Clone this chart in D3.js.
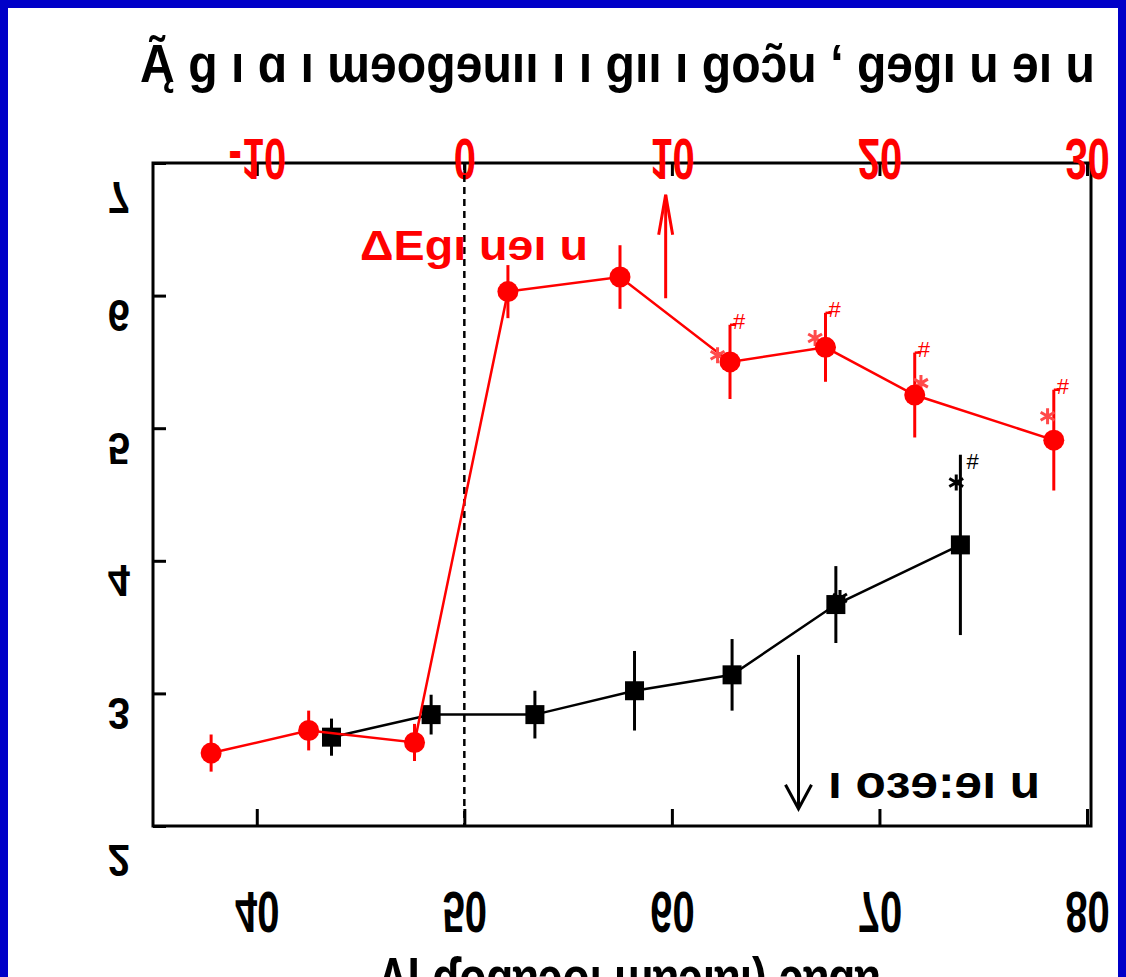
<!DOCTYPE html>
<html>
<head>
<meta charset="utf-8">
<script src="https://cdn.jsdelivr.net/npm/d3@7"></script>
<style>
  body { margin: 0; background: #0000c8; }
  svg { display: block; }
  text { font-family: "Liberation Sans", Arial, sans-serif; font-weight: bold; }
</style>
</head>
<body>
<svg id="chart"></svg>
<script>
// tick values
const ageTicks = [40, 50, 60, 70, 80]
const timeTicks = [-10, 0, 10, 20, 30]
const valueTicks = [2, 3, 4, 5, 6, 7]

// black series, bottom axis (age)
const blackAge = [43.6, 48.4, 53.4, 58.2, 62.9, 67.9, 73.9]
const blackVal = [2.67, 2.84, 2.84, 3.02, 3.14, 3.67, 4.12]
const blackErr = [0.14, 0.15, 0.18, 0.3, 0.27, 0.29, 0.68]
const blackStarAge = [68.1, 73.7]
const blackStarVal = [3.72, 4.59]

// red series, top axis (time)
const redTime = [-12.2, -7.5, -2.4, 2.1, 7.5, 12.8, 17.4, 21.7, 28.4]
const redVal = [2.55, 2.72, 2.63, 6.03, 6.14, 5.5, 5.61, 5.25, 4.91]
const redErr = [0.14, 0.15, 0.14, 0.2, 0.24, 0.28, 0.26, 0.32, 0.38]
const redStarTime = [12.2, 16.9, 22.0, 28.1]
const redStarVal = [5.55, 5.68, 5.34, 5.09]
const redHashIdx = [5, 6, 7, 8]

// arrows: [x, yFrom, yTo]
const redArrow = [9.7, 5.98, 6.76]
const blackArrow = [66.1, 3.29, 2.13]

// labels (as they appear)
const topTitle = "Ą̃ ɡ ı ɑ ı ɯɘoɡɘuıı ı  ı ɡıı ı ɡoɔ̃u ʻ ɡɘɡı u ɘı u"
const redLabel = "ΔEɡı  uɘı u"
const blackLabel = "ı   oɜɘ:ɘı u"
const bottomTitle = "ɅI ɗoɡɐɔoı ɯɐɔıɐı) ɔɐɡɐ"

const width = 1126
const height = 977
const plot = { left: 153, right: 1091, top: 163, bottom: 826 }

const svg = d3.select('#chart')
    .attr('width', width)
    .attr('height', height)

// blue slide border + white page
svg.append('rect').attr('width', width).attr('height', height).attr('fill', '#0000c8')
svg.append('rect').attr('x', 8).attr('y', 8).attr('width', width - 16).attr('height', height).attr('fill', '#fff')

const ageScale = d3.scaleLinear().domain([35, 80]).range([plot.left, 1087])
const timeScale = d3.scaleLinear().domain([-15, 30]).range([plot.left, 1087])
const yScale = d3.scaleLinear().domain([2, 7]).range([plot.bottom, plot.top])

// frame
svg.append('rect')
    .attr('x', plot.left).attr('y', plot.top)
    .attr('width', plot.right - plot.left).attr('height', plot.bottom - plot.top)
    .attr('fill', 'none').attr('stroke', '#000').attr('stroke-width', 3)

// axes, labels drawn flipped like in the picture
const gx = svg.append('g')
    .attr('transform', `translate(0,${plot.bottom})`)
    .call(d3.axisBottom(ageScale).tickValues(ageTicks).tickSizeInner(-17).tickSizeOuter(0)
        .tickFormat(d3.format('d')))
gx.selectAll('text')
    .attr('y', 0).attr('dy', 0)
    .attr('transform', 'translate(0,66) scale(1,-1.45)')
    .style('font-size', '40px').attr('fill', '#000')

const gt = svg.append('g')
    .attr('transform', `translate(0,${plot.top})`)
    .call(d3.axisTop(timeScale).tickValues(timeTicks).tickSizeInner(-13).tickSizeOuter(0)
        .tickFormat(d => String(d)))
gt.selectAll('text')
    .attr('y', 0).attr('dy', 0)
    .attr('transform', 'translate(0,-24) scale(1,-1.45)')
    .style('font-size', '40px').attr('fill', '#ff0000')

const gy = svg.append('g')
    .attr('transform', `translate(${plot.left},0)`)
    .call(d3.axisLeft(yScale).tickValues(valueTicks).tickSizeInner(-13).tickSizeOuter(0)
        .tickFormat(d3.format('d')))
gy.selectAll('text')
    .attr('x', 0).attr('dy', 0)
    .attr('transform', d => `translate(-23,${(d === 2 || d === 7) ? 18 : 4}) scale(1,-1.1)`)
    .style('font-size', '40px').attr('fill', '#000')

svg.selectAll('.domain').remove()
svg.selectAll('.tick line').attr('stroke', '#000').attr('stroke-width', 3)

// dashed line at time 0
svg.append('line')
    .attr('x1', timeScale(0)).attr('x2', timeScale(0))
    .attr('y1', plot.top).attr('y2', plot.bottom)
    .attr('stroke', '#000').attr('stroke-width', 2.5).attr('stroke-dasharray', '7,5')

function starPath(cx, cy, r) {
    let p = ''
    for (const a of [90, 30, 150]) {
        const t = a * Math.PI / 180
        p += `M${cx + r * Math.cos(t)},${cy - r * Math.sin(t)}L${cx - r * Math.cos(t)},${cy + r * Math.sin(t)}`
    }
    return p
}

// black series
const blackData = blackAge.map((a, i) => ({ x: ageScale(a), v: blackVal[i], e: blackErr[i] }))
svg.append('g').selectAll('line').data(blackData).enter().append('line')
    .attr('x1', d => d.x).attr('x2', d => d.x)
    .attr('y1', d => yScale(d.v - d.e)).attr('y2', d => yScale(d.v + d.e))
    .attr('stroke', '#000').attr('stroke-width', 3)
svg.append('path')
    .datum(blackData)
    .attr('d', d3.line().x(d => d.x).y(d => yScale(d.v)))
    .attr('fill', 'none').attr('stroke', '#000').attr('stroke-width', 2.5)
svg.append('g').selectAll('rect').data(blackData).enter().append('rect')
    .attr('x', d => d.x - 9.5).attr('y', d => yScale(d.v) - 9.5)
    .attr('width', 19).attr('height', 19).attr('fill', '#000')
svg.append('g').selectAll('path').data(blackStarAge).enter().append('path')
    .attr('d', (a, i) => starPath(ageScale(a), yScale(blackStarVal[i]), 8))
    .attr('stroke', '#000').attr('stroke-width', 3)
svg.append('text')
    .attr('x', blackData[6].x + 6).attr('y', yScale(blackData[6].v + blackData[6].e) + 14)
    .style('font-size', '22px').style('font-weight', 'normal').attr('fill', '#000').text('#')

// red series
const redData = redTime.map((t, i) => ({ x: timeScale(t), v: redVal[i], e: redErr[i] }))
svg.append('g').selectAll('line').data(redData).enter().append('line')
    .attr('x1', d => d.x).attr('x2', d => d.x)
    .attr('y1', d => yScale(d.v - d.e)).attr('y2', d => yScale(d.v + d.e))
    .attr('stroke', '#ff0000').attr('stroke-width', 3)
svg.append('path')
    .datum(redData)
    .attr('d', d3.line().x(d => d.x).y(d => yScale(d.v)))
    .attr('fill', 'none').attr('stroke', '#ff0000').attr('stroke-width', 2.5)
svg.append('g').selectAll('path').data(redStarTime).enter().append('path')
    .attr('d', (t, i) => starPath(timeScale(t), yScale(redStarVal[i]), 8))
    .attr('stroke', '#ff4a4a').attr('stroke-width', 3)
svg.append('g').selectAll('circle').data(redData).enter().append('circle')
    .attr('cx', d => d.x).attr('cy', d => yScale(d.v)).attr('r', 10.5)
    .attr('fill', '#ff0000')
const hashes = svg.append('g').selectAll('g').data(redHashIdx.map(i => redData[i])).enter().append('g')
    .attr('transform', d => `translate(${d.x},${yScale(d.v + d.e)})`)
hashes.append('line').attr('x1', 0).attr('x2', 6).attr('y1', 0).attr('y2', 0)
    .attr('stroke', '#ff0000').attr('stroke-width', 2.5)
hashes.append('text').attr('x', 3).attr('y', 4)
    .style('font-size', '22px').style('font-weight', 'normal').attr('fill', '#ff0000').text('#')

// arrows
function arrow(x, y1, y2, color, hw, hl) {
    const dir = y2 < y1 ? 1 : -1
    svg.append('line').attr('x1', x).attr('x2', x).attr('y1', y1).attr('y2', y2)
        .attr('stroke', color).attr('stroke-width', 3)
    svg.append('path')
        .attr('d', `M${x - hw},${y2 + dir * hl}L${x},${y2}L${x + hw},${y2 + dir * hl}`)
        .attr('fill', 'none').attr('stroke', color).attr('stroke-width', 3)
}
arrow(timeScale(redArrow[0]), yScale(redArrow[1]), yScale(redArrow[2]), '#ff0000', 7, 40)
arrow(ageScale(blackArrow[0]), yScale(blackArrow[1]), yScale(blackArrow[2]), '#000', 13, 24)

// labels
function label(txt, x, y, len, size, sy, color, cls) {
    const t = svg.append('g').attr('transform', `translate(${x},${y}) scale(1,${sy})`)
        .append('text')
        .attr('class', cls)
        .style('font-size', size + 'px').attr('fill', color)
        .text(txt)
    if (len) t.attr('textLength', len).attr('lengthAdjust', 'spacingAndGlyphs')
    return t
}
label(topTitle, 140, 82, 955, 40, 1.35, '#000', 'title')
label(redLabel, 360, 260, 228, 38, 1.1, '#ff0000', 'red-label')
label(blackLabel, 828, 798, 212, 38, 1.2, '#000', 'black-label')
label(bottomTitle, 378, 996, 502, 40, 1.4, '#000', 'x-title')
</script>
</body>
</html>
